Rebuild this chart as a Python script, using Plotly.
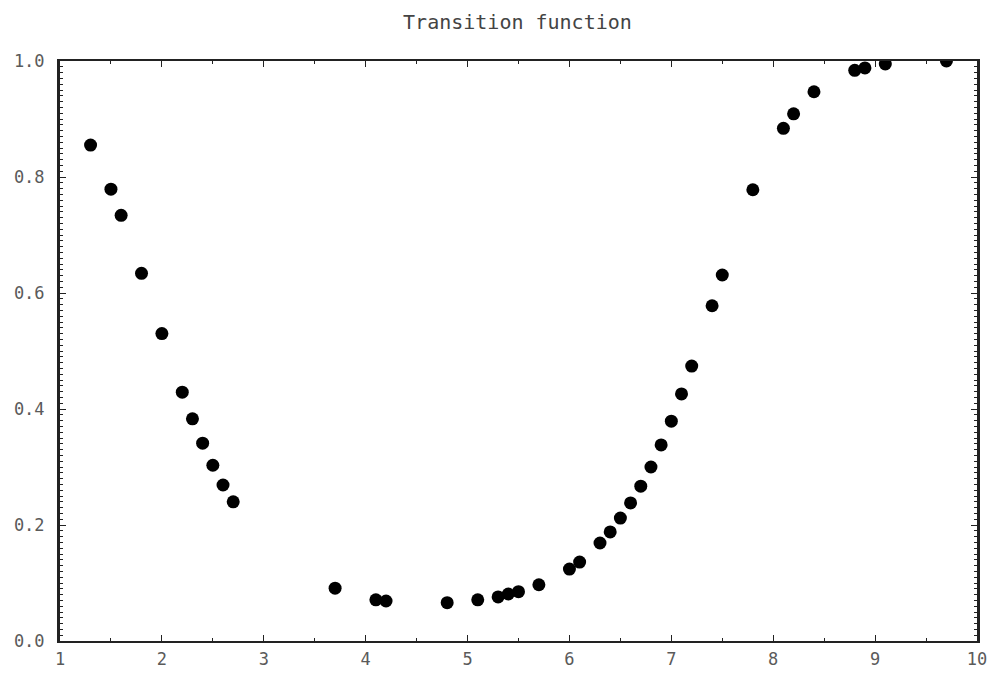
import plotly.graph_objects as go

x_vals = [1.3, 1.5, 1.6, 1.8, 2.0, 2.2, 2.3, 2.4, 2.5, 2.6, 2.7,
          3.7, 4.1, 4.2, 4.8, 5.1, 5.3, 5.4, 5.5, 5.7,
          6.0, 6.1, 6.3, 6.4, 6.5, 6.6, 6.7, 6.8, 6.9, 7.0, 7.1, 7.2,
          7.4, 7.5, 7.8, 8.1, 8.2, 8.4, 8.8, 8.9, 9.1, 9.7]
y_vals = [0.855, 0.779, 0.734, 0.634, 0.530, 0.429, 0.383, 0.341, 0.303, 0.269, 0.240,
          0.091, 0.071, 0.069, 0.066, 0.071, 0.076, 0.081, 0.085, 0.097,
          0.124, 0.136, 0.169, 0.188, 0.212, 0.238, 0.267, 0.300, 0.338, 0.379, 0.426, 0.474,
          0.578, 0.631, 0.778, 0.884, 0.909, 0.947, 0.984, 0.988, 0.995, 1.0]

x_ticks = [1, 2, 3, 4, 5, 6, 7, 8, 9, 10]
y_ticks = [0.0, 0.2, 0.4, 0.6, 0.8, 1.0]
y_tick_text = ["0.0", "0.2", "0.4", "0.6", "0.8", "1.0"]

fig = go.Figure()
fig.add_trace(go.Scatter(
    x=x_vals, y=y_vals, mode="markers",
    marker=dict(color="black", size=13, line=dict(width=0)),
    cliponaxis=True, showlegend=False,
))

font = dict(family="DejaVu Sans Mono", size=17, color="#5a5a5a")

fig.update_layout(
    width=995, height=677,
    margin=dict(l=52, r=26, t=53, b=44, autoexpand=False),
    paper_bgcolor="white", plot_bgcolor="white",
    title=dict(text="Transition function", x=0.512, xanchor="center", y=0.979, yanchor="middle",
               font=dict(family="DejaVu Sans Mono", size=20, color="#444444")),
    font=font,
)
fig.update_xaxes(
    range=[1, 10], tickvals=x_ticks, ticktext=[str(t) for t in x_ticks],
    showgrid=False, zeroline=False, automargin=False,
    showline=True, linecolor="#222222", linewidth=2, mirror="allticks",
    ticks="inside", ticklen=6, tickwidth=1, tickcolor="#222222",
    minor=dict(dtick=0.5, ticks="inside", ticklen=3, tickcolor="#222222", showgrid=False),
    tickfont=font, ticklabelstandoff=2,
)
fig.update_yaxes(
    range=[0, 1], tickvals=y_ticks, ticktext=y_tick_text,
    showgrid=False, zeroline=False, automargin=False,
    showline=True, linecolor="#222222", linewidth=3, mirror="allticks",
    ticks="inside", ticklen=6, tickwidth=1, tickcolor="#222222",
    minor=dict(dtick=0.01, ticks="inside", ticklen=3, tickcolor="#222222", showgrid=False),
    tickfont=font, ticklabelstandoff=9,
)

fig.write_html("out.html")
